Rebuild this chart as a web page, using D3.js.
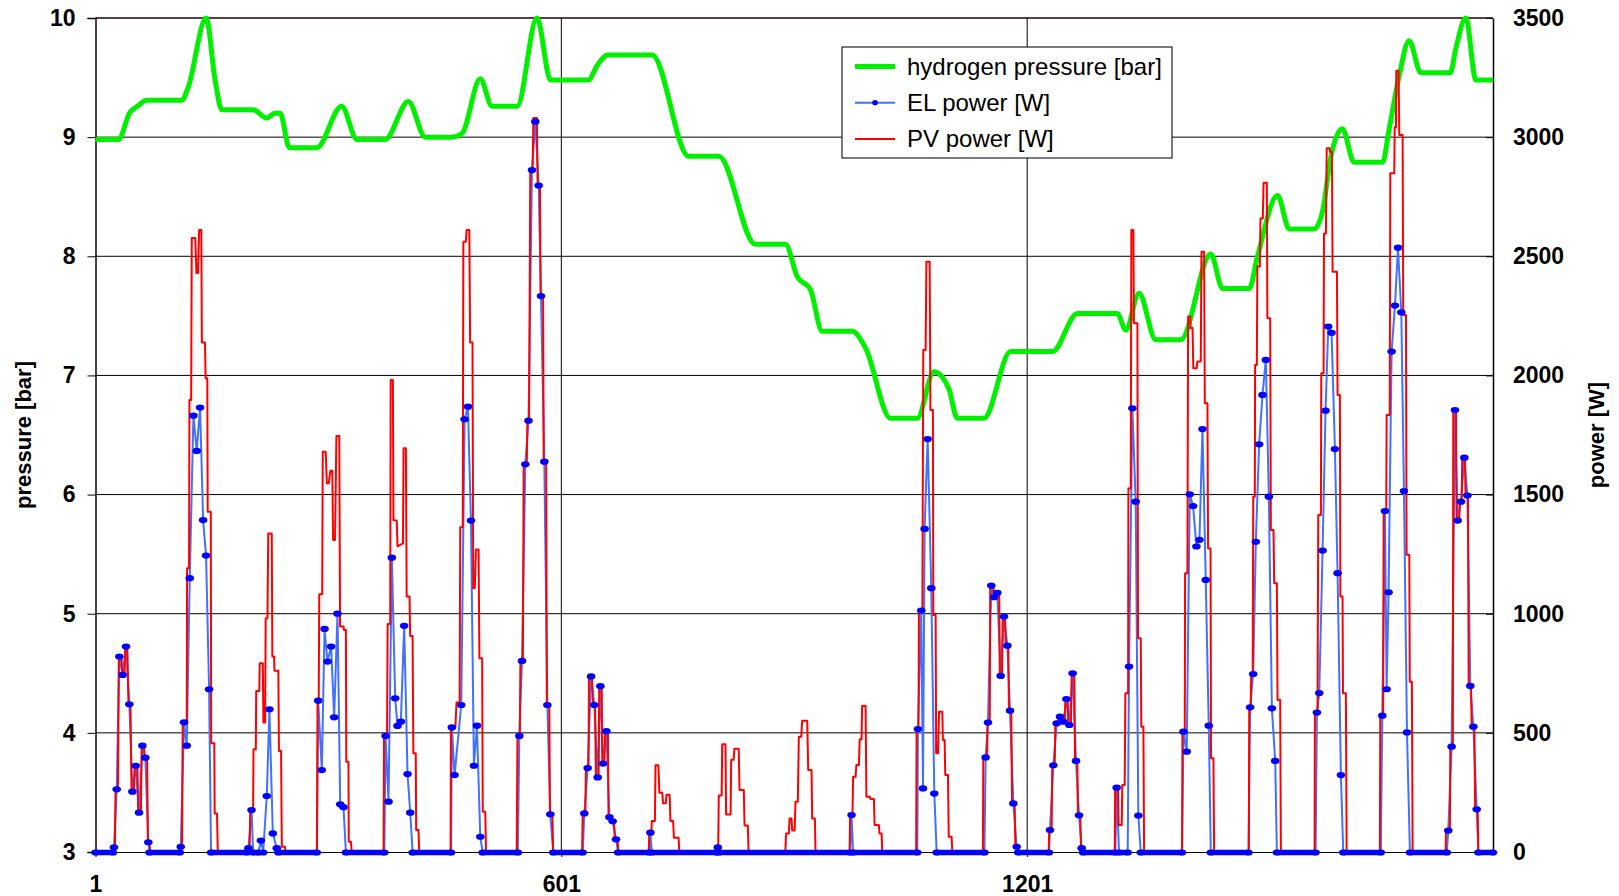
<!DOCTYPE html>
<html>
<head>
<meta charset="utf-8">
<script src="https://cdn.jsdelivr.net/npm/d3@7"></script>
<style>
  html, body { margin: 0; padding: 0; background: #fff; }
  svg { display: block; }
  text { font-family: "Liberation Sans", Arial, sans-serif; }
</style>
</head>
<body>
<svg id="chart" width="1619" height="896"></svg>
<script>
// ---------------- DATA ----------------
const pressureTicks = [3, 4, 5, 6, 7, 8, 9, 10];
const powerTicks = [0, 500, 1000, 1500, 2000, 2500, 3000, 3500];
const xTicks = [1, 601, 1201];
const legendLabels = ["hydrogen pressure [bar]", "EL power [W]", "PV power [W]"];

// hydrogen pressure [bar]  ([sample, value])
const pressure = [
[1,8.98],[30.4,8.98],[45.5,9.21],[55,9.26],[67,9.31],[112,9.31],[120,9.41],[143.5,10.0],[155,9.48],[163.6,9.23],[204,9.23],
[221.6,9.16],[232,9.2],[238.8,9.2],[250.8,8.91],[286,8.91],[318,9.26],[337.7,8.98],[374,8.98],[404,9.3],[425.7,9.0],[460,9.0],
[473,9.03],[496.6,9.49],[511.6,9.26],[544,9.26],[569.7,10.0],[587,9.48],[636,9.48],[647,9.6],[660.7,9.69],[718,9.69],
[765,8.84],[803.8,8.84],[851,8.10],[889.7,8.10],[904.8,7.83],[921.9,7.72],[937,7.37],[975.7,7.37],[992.8,7.23],[1025,6.64],
[1059.4,6.64],[1080.9,7.03],[1100,6.89],[1111,6.64],[1145.3,6.64],[1179.7,7.2],[1233.5,7.2],[1265.7,7.52],[1317,7.52],
[1328,7.38],[1345,7.69],[1366.6,7.30],[1399,7.30],[1437.5,8.02],[1452.6,7.73],[1487,7.73],[1497.7,8.0],[1523.5,8.51],
[1538.5,8.23],[1570.7,8.23],[1581.5,8.38],[1592,8.83],[1607,9.07],[1622,8.79],[1658.8,8.79],[1667,9.06],[1680,9.51],
[1693,9.81],[1708,9.54],[1746,9.54],[1753,9.74],[1766,10.0],[1779,9.48],[1801,9.48]
];

// EL power [W]
const elPower = [
[1,0],[23.5,0],[24.8,20],[28.3,263],[31.7,820],[36,743],[40.3,862],[44.6,620],[48.5,253],[52.8,362],[57,165],[61.4,446],[65.2,396],[69,41],[70.5,0],
[109.5,0],[110.8,22],[115,544],[118.5,446],[122.4,1149],[127.1,1831],[131.4,1683],[135.7,1865],[139.6,1393],[143.4,1244],[147.3,683],[149.8,0],
[196,0],[198,16],[202,176],[204,0],[211,0],[214,48],[217,0],[221.6,235],[225,599],[229.4,78],[234.5,16],[236.5,0],
[286,0],[287.8,635],[292.5,344],[296,936],[299.8,799],[304.5,862],[308.4,565],[312.7,1000],[316.2,200],[320.4,188],[323.5,0],
[373,0],[374.6,487],[378.4,211],[382.7,1235],[387,645],[390,529],[394.3,547],[398.6,949],[402.9,327],[406.4,165],[409.4,0],
[459,0],[460,523],[463.5,323],[472.1,617],[476.4,1816],[480.7,1869],[484.6,1391],[488.4,362],[492.3,530],[496.6,64],[499.6,0],
[545,0],[546.9,487],[550.3,802],[554.6,1627],[558.7,1810],[563.2,2862],[567.5,3065],[571.8,2797],[574.8,2333],[579.1,1638],[583,617],[586.8,158],[590.5,0],
[628.5,0],[630.6,162],[634.9,352],[639.3,737],[643.5,617],[647.8,313],[651.3,696],[654.7,371],[659,507],[662.9,146],[667.1,129],[671.5,53],[674,0],
[714,0],[715.7,81],[717.5,0],
[801,0],[802.5,19],[804,0],
[973,0],[974.8,155],[976.8,0],
[1059.5,0],[1060.3,516],[1064.6,1013],[1066.8,267],[1068.9,1356],[1072.8,1733],[1077.5,1107],[1081.4,245],[1084.4,0],
[1146,0],[1147.5,397],[1150.5,543],[1154.8,1118],[1158.3,1069],[1162.6,1088],[1166.9,739],[1171.2,988],[1175.5,866],[1178.9,593],[1183.2,204],[1187.5,22],[1189.5,0],
[1229,0],[1230.4,92],[1234.7,364],[1239,540],[1243.3,568],[1247.6,547],[1251.5,642],[1255.3,533],[1259.6,750],[1263.9,382],[1267.8,154],[1271.2,16],[1273,0],
[1314.5,0],[1316.3,270],[1319.3,0],[1330.5,0],[1332.2,778],[1336.5,1862],[1340.8,1470],[1344.2,153],[1347.3,0],
[1400.5,0],[1402.3,505],[1406.5,421],[1410.4,1501],[1414.7,1452],[1419,1282],[1422.9,1310],[1426.8,1775],[1431,1142],[1434.9,530],[1437.5,0],
[1486,0],[1488.2,607],[1492.1,747],[1495.5,1302],[1499.8,1711],[1504.1,1918],[1508.4,2065],[1512.3,1491],[1516.2,603],[1520.5,382],[1522.6,0],
[1572.5,0],[1574.2,585],[1577.2,667],[1581.5,1265],[1585.3,1852],[1588.8,2205],[1593.1,2179],[1597.4,1691],[1600.8,1170],[1605.1,323],[1608.1,0],
[1656.5,0],[1658.4,572],[1661.8,1431],[1664,683],[1666.5,1090],[1670.4,2100],[1674.7,2293],[1678.6,2536],[1682.9,2265],[1686.3,1515],[1690.2,502],[1694,0],
[1741.5,0],[1743.4,90],[1747.7,442],[1752,1855],[1755.5,1391],[1759.8,1470],[1764.1,1655],[1768,1496],[1771.8,697],[1775.7,526],[1780,179],[1782.1,0],[1801,0]
];

// PV power [W]
const pvPower = [
[1,0],[26,0],[26.8,263],[30,263],[31,820],[34.5,820],[35.5,743],[38.5,743],[39.3,862],[42,862],[43.5,620],[46,620],[47.5,253],[50.5,253],[51.5,362],[55,362],[56,165],[59.5,165],[60.5,446],[63.5,446],[64.5,396],[67.5,396],[68.5,41],[70.5,41],[71.5,0],
[109.5,0],[110.5,22],[112.5,22],[113.3,547],[118.5,547],[119,1191],[121.5,1191],[122,1897],[124.2,1897],[125,2577],[129.5,2577],[131,2430],[133,2430],[134.5,2610],[137.3,2610],[138,2138],[142,2138],[142.8,1988],[145,1988],[145.5,1428],[149.5,1428],[150,456],[154,456],[154.5,162],[157.5,162],[158.5,0],
[199.5,0],[200.3,176],[204,176],[204.5,431],[207.5,431],[208,676],[212,676],[212.5,792],[216.5,792],[217.3,543],[219.5,543],[220.2,981],[222.5,981],[223.5,1337],[228,1337],[228.8,820],[231,820],[231.5,761],[236.5,761],[237.3,424],[240,424],[241,22],[245,22],[245.8,0],
[286.3,0],[287,635],[288.5,635],[289.2,1082],[293,1082],[293.7,1680],[297.5,1680],[299,1547],[301.5,1547],[303.5,1600],[306,1600],[307,1309],[309.5,1309],[311.3,1746],[315,1746],[316,946],[320.5,946],[321,932],[323.5,932],[324,379],[326.8,379],[327.2,43],[330,43],[331,0],
[372,0],[372.6,487],[376.5,487],[377.3,957],[380.6,957],[381.2,1981],[384,1981],[384.8,1393],[389,1390],[390,1283],[397,1295],[397.8,1694],[400.8,1694],[401.8,1072],[405.5,1072],[406.3,907],[409.4,907],[410.4,414],[413.5,414],[414,92],[417,92],[418,0],
[458.3,0],[458.8,523],[464.5,523],[466,627],[470,627],[470.8,1363],[474,1363],[474.8,2561],[478,2561],[479,2610],[482.5,2610],[483.5,2138],[486.6,2138],[487.5,1107],[489.5,1107],[491,1270],[494.4,1270],[495.5,813],[499,813],[499.8,169],[503,169],[504,0],
[543.5,0],[544.5,487],[547.5,487],[548.3,802],[551.5,802],[552.5,1627],[556.5,1627],[557.3,1810],[559.5,1810],[561,2862],[564,2862],[565,3080],[569.5,3080],[570.5,2797],[573.5,2797],[574.3,2333],[577.5,2333],[578.3,1638],[581.5,1638],[582.3,617],[585.5,617],[586.3,158],[589.5,158],[590.5,0],
[627.8,0],[628.5,162],[632,162],[632.6,352],[636,352],[636.6,737],[640.5,737],[641.5,617],[644.5,617],[645.5,313],[649,313],[649.8,696],[653,696],[653.8,371],[656.5,371],[657.3,507],[661,507],[661.8,146],[665,146],[665.8,129],[669,129],[669.8,53],[673.5,53],[674.5,0],
[713.5,0],[714.3,81],[717,81],[717.5,130],[721.5,130],[722.3,364],[726,364],[727.3,249],[731,249],[732,205],[735.5,205],[736.5,240],[740.5,240],[741.5,130],[745,130],[746,60],[752,60],[753,0],
[803,0],[803.8,237],[807.5,237],[808.2,452],[812.4,452],[813.2,157],[819,157],[819.8,387],[823,387],[823.8,433],[829.5,433],[830.5,260],[836,260],[837,111],[841.2,111],[842.2,0],
[889.5,0],[890.5,78],[894,78],[895,141],[897.5,141],[898.3,90],[901.5,90],[902.6,211],[905.6,211],[906.9,484],[910,484],[911.2,551],[917.7,551],[919,344],[923.3,344],[924.1,141],[927.6,141],[928.4,0],
[972.3,0],[972.9,155],[976,155],[976.8,316],[980,316],[981,365],[984.3,365],[985.3,473],[987.7,473],[988.4,613],[992.9,613],[993.9,232],[998.4,232],[999.2,222],[1003.6,222],[1004.5,113],[1010,113],[1010.8,78],[1013.5,78],[1014.3,0],
[1058,0],[1058.6,516],[1061,516],[1061.6,1013],[1066,1013],[1067.2,2107],[1070.2,2107],[1071.2,2477],[1075.4,2477],[1076.4,1855],[1079.6,1855],[1080.1,995],[1083.1,995],[1083.8,414],[1086.1,414],[1087.5,589],[1091.7,589],[1092.5,470],[1094.7,470],[1095.5,323],[1099,323],[1100,64],[1103.7,64],[1104.6,0],
[1144,0],[1144.5,397],[1149.5,397],[1150,543],[1152.8,543],[1153.4,1118],[1157.5,1118],[1158.3,1069],[1161,1069],[1161.6,1088],[1165,1088],[1165.8,739],[1168.6,739],[1169.4,988],[1172.5,988],[1173.4,866],[1176.7,866],[1177.5,593],[1180.5,593],[1181.5,204],[1184.9,204],[1185.8,22],[1188.3,22],[1189.2,0],
[1228.8,0],[1229.3,92],[1232.5,92],[1233.3,364],[1236.5,364],[1237.3,540],[1241,540],[1241.8,568],[1245.4,568],[1246.2,547],[1249.5,547],[1250.3,642],[1253.2,642],[1254,533],[1257.5,533],[1258.3,750],[1261.8,750],[1262.6,382],[1265.6,382],[1266.4,154],[1269.5,154],[1270.3,16],[1273,16],[1273.8,0],
[1313.8,0],[1314.3,270],[1318,270],[1318.8,113],[1322.8,113],[1323.5,281],[1326.6,281],[1327.5,666],[1331,666],[1331.4,1526],[1334.4,1526],[1335.2,2610],[1337.8,2610],[1338.5,2219],[1343,2219],[1343.8,897],[1347.3,897],[1348,526],[1350.7,526],[1351.6,0],
[1400.5,0],[1401,505],[1404,505],[1404.4,1170],[1407.4,1170],[1408.3,2247],[1411,2247],[1411.5,2199],[1414,2199],[1415,2030],[1419.4,2030],[1420.2,2058],[1424.6,2058],[1425.5,2519],[1428.9,2519],[1429.8,1883],[1433.2,1883],[1434,1274],[1437.2,1274],[1437.8,393],[1440.9,393],[1441.8,0],
[1486.5,0],[1487,607],[1489,607],[1489.5,747],[1491.5,747],[1492.2,1491],[1494.2,1491],[1494.6,2044],[1496.8,2044],[1497.5,2457],[1500.7,2457],[1501.5,2659],[1504.5,2659],[1505.5,2809],[1509.7,2809],[1510.4,2240],[1514,2240],[1514.9,1351],[1518.3,1351],[1519.2,1128],[1522.6,1128],[1523.5,638],[1526.9,638],[1527.8,0],
[1571.2,0],[1571.6,585],[1575,585],[1575.9,1414],[1579.3,1414],[1579.8,2009],[1582.8,2009],[1583.3,2596],[1585.8,2596],[1586.8,2953],[1590.5,2953],[1591,2939],[1593.5,2939],[1594.4,2435],[1600,2435],[1600.8,1918],[1603.8,1918],[1604.4,1072],[1607.2,1072],[1607.8,666],[1611.5,666],[1612.5,0],
[1655.3,0],[1655.8,572],[1659.5,572],[1660.2,1431],[1663.5,1431],[1664,1834],[1668,1834],[1668.7,2848],[1673.8,2848],[1674.4,3041],[1676,3041],[1676.4,3279],[1679.4,3279],[1680.3,3009],[1684.6,3009],[1685.4,2254],[1688.9,2254],[1689.7,1247],[1693.2,1247],[1693.8,715],[1696.5,715],[1697.5,0],
[1740,0],[1740.4,90],[1745.5,90],[1746,442],[1749.3,442],[1749.8,1855],[1753.3,1855],[1754,1391],[1757.6,1391],[1758.2,1470],[1760.6,1470],[1761.4,1655],[1764.9,1655],[1765.6,1496],[1768.8,1496],[1769.7,697],[1772.7,697],[1773.5,526],[1777,526],[1778,179],[1781.3,179],[1782.1,0],[1801,0]
];

// ---------------- CHART ----------------
const svg = d3.select("#chart");
const W = 1619, H = 896;
const plot = { left: 95.5, right: 1493, top: 18, bottom: 852 };

svg.append("rect").attr("width", W).attr("height", H).attr("fill", "#fff");

const x = d3.scaleLinear().domain([1, 1801]).range([plot.left, plot.right]);
const yP = d3.scaleLinear().domain([3, 10]).range([plot.bottom, plot.top]);
const yW = d3.scaleLinear().domain([0, 3500]).range([plot.bottom, plot.top]);

const FONT = '"Liberation Sans", Arial, sans-serif';

// gridlines
const grid = svg.append("g");
grid.selectAll("line.h").data(pressureTicks.filter(v => v > 3 && v < 10)).enter()
  .append("line").attr("x1", plot.left).attr("x2", plot.right)
  .attr("y1", d => yP(d)).attr("y2", d => yP(d))
  .attr("stroke", "#000").attr("stroke-width", 1);
grid.selectAll("line.v").data(xTicks.filter(v => v > 1)).enter()
  .append("line").attr("y1", plot.top).attr("y2", plot.bottom)
  .attr("x1", d => x(d)).attr("x2", d => x(d))
  .attr("stroke", "#000").attr("stroke-width", 1);

// axes via d3
const leftAxis = d3.axisLeft(yP).tickValues(pressureTicks).tickSize(8).tickFormat(d3.format("d"));
const gl = svg.append("g").attr("transform", `translate(${plot.left},0)`).call(leftAxis);
gl.selectAll("text").attr("font-family", FONT).attr("font-size", 23).attr("font-weight", "bold")
  .attr("fill", "#000").attr("x", -20);
gl.selectAll("line").attr("stroke", "#000");
gl.select(".domain").attr("stroke", "#1a0000").attr("stroke-width", 1.5);

const rightAxis = d3.axisRight(yW).tickValues(powerTicks).tickSizeInner(-7).tickSizeOuter(0).tickFormat(d3.format("d"));
const gr = svg.append("g").attr("transform", `translate(${plot.right},0)`).call(rightAxis);
gr.selectAll("text").attr("font-family", FONT).attr("font-size", 23).attr("font-weight", "bold")
  .attr("fill", "#000").attr("x", 20);
gr.selectAll("line").attr("stroke", "#000");
gr.select(".domain").attr("stroke", "#000").attr("stroke-width", 1.5);

const bottomAxis = d3.axisBottom(x).tickValues(xTicks).tickSizeInner(5).tickSizeOuter(0).tickFormat(d3.format("d"));
const gb = svg.append("g").attr("transform", `translate(0,${plot.bottom})`).call(bottomAxis);
gb.selectAll("text").attr("font-family", FONT).attr("font-size", 23).attr("font-weight", "bold")
  .attr("fill", "#000").attr("y", 24).attr("dy", "0.71em");
gb.selectAll("line").attr("stroke", "#000");
gb.select(".domain").attr("stroke", "#000").attr("stroke-width", 1.2);

// top border
svg.append("line").attr("x1", plot.left).attr("x2", plot.right).attr("y1", plot.top).attr("y2", plot.top)
  .attr("stroke", "#200").attr("stroke-width", 1.3);

// axis titles
svg.append("text").attr("transform", `translate(31,${(plot.top + plot.bottom) / 2}) rotate(-90)`)
  .attr("text-anchor", "middle").attr("font-family", FONT).attr("font-size", 22).attr("font-weight", "bold")
  .text("pressure [bar]");
svg.append("text").attr("transform", `translate(1604,${(plot.top + plot.bottom) / 2}) rotate(-90)`)
  .attr("text-anchor", "middle").attr("font-family", FONT).attr("font-size", 22).attr("font-weight", "bold")
  .text("power [W]");

// series
const gSeries = svg.append("g");
const linePressure = d3.line().x(d => x(d[0])).y(d => yP(d[1])).curve(d3.curveMonotoneX);
const linePower = d3.line().x(d => x(d[0])).y(d => yW(d[1]));

gSeries.append("path").datum(pressure).attr("d", linePressure)
  .attr("fill", "none").attr("stroke", "#00f000").attr("stroke-width", 5).attr("stroke-linejoin", "round");

gSeries.append("path").datum(elPower).attr("d", linePower)
  .attr("fill", "none").attr("stroke", "#4270ff").attr("stroke-width", 2).attr("stroke-linejoin", "round");

gSeries.append("path").datum(pvPower).attr("d", linePower)
  .attr("fill", "none").attr("stroke", "#ff0000").attr("stroke-width", 2).attr("stroke-linejoin", "round");

// EL marker band along zero runs (dense markers)
const zeroRuns = [];
for (let i = 0; i < elPower.length - 1; i++) {
  if (elPower[i][1] === 0 && elPower[i + 1][1] === 0) zeroRuns.push([elPower[i][0], elPower[i + 1][0]]);
}
gSeries.selectAll("line.zero").data(zeroRuns).enter().append("line")
  .attr("x1", d => x(d[0])).attr("x2", d => x(d[1]))
  .attr("y1", yW(0) + 0.5).attr("y2", yW(0) + 0.5)
  .attr("stroke", "#0000ff").attr("stroke-width", 5.5).attr("stroke-linecap", "round");

gSeries.selectAll("ellipse.el").data(elPower).enter().append("ellipse")
  .attr("cx", d => x(d[0])).attr("cy", d => yW(d[1]) + (d[1] === 0 ? 0.5 : 0))
  .attr("rx", 4.3).attr("ry", 3.1).attr("fill", "#0000ff");

// legend
const lg = svg.append("g");
lg.append("rect").attr("x", 842).attr("y", 47).attr("width", 330).attr("height", 111)
  .attr("fill", "#fff").attr("stroke", "#222").attr("stroke-width", 1.2);
const rowsY = [66.5, 102.7, 139];
lg.append("line").attr("x1", 855).attr("x2", 895).attr("y1", rowsY[0]).attr("y2", rowsY[0])
  .attr("stroke", "#00f000").attr("stroke-width", 5);
lg.append("line").attr("x1", 855).attr("x2", 895).attr("y1", rowsY[1]).attr("y2", rowsY[1])
  .attr("stroke", "#4270ff").attr("stroke-width", 2);
lg.append("ellipse").attr("cx", 875).attr("cy", rowsY[1]).attr("rx", 2.8).attr("ry", 2.6).attr("fill", "#0000ff");
lg.append("line").attr("x1", 855).attr("x2", 895).attr("y1", rowsY[2]).attr("y2", rowsY[2])
  .attr("stroke", "#ff0000").attr("stroke-width", 2);
lg.selectAll("text.lab").data(legendLabels).enter().append("text")
  .attr("x", 907).attr("y", (d, i) => rowsY[i] + 8.3)
  .attr("font-family", FONT).attr("font-size", 24).attr("fill", "#000")
  .text(d => d);
</script>
</body>
</html>
